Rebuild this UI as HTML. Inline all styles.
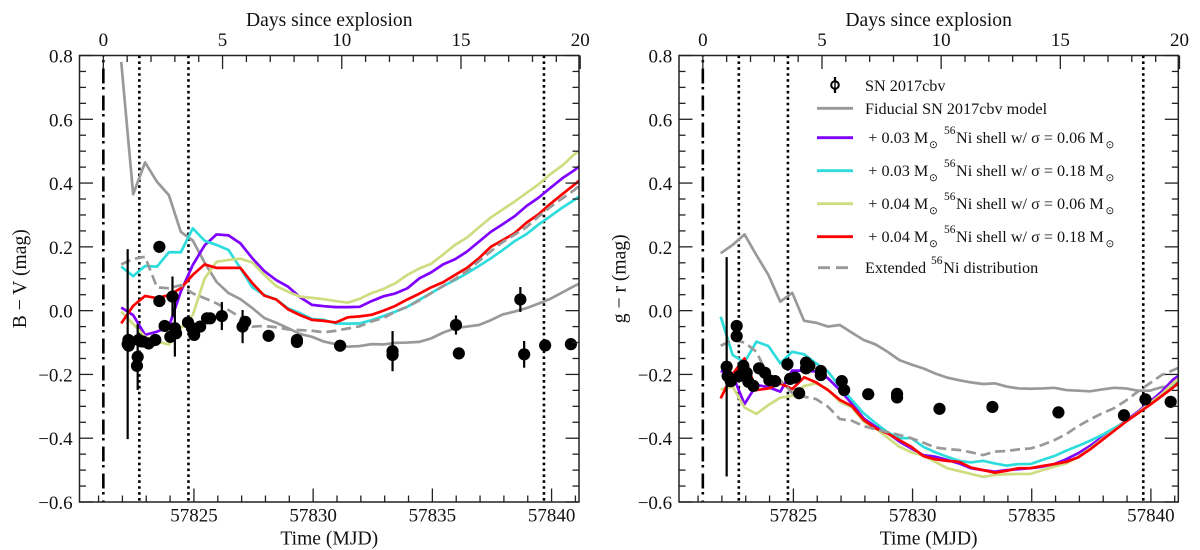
<!DOCTYPE html>
<html lang="en">
<head>
<meta charset="utf-8">
<title>SN 2017cbv colour curves</title>
<style>
html,body{margin:0;padding:0;background:#fff;}
svg{display:block;font-family:"Liberation Serif","DejaVu Serif",serif;fill:#111;}
.leg{font-size:16.2px;}
.sup{font-size:11.5px;}
.sun{font-size:10.5px;font-family:"DejaVu Sans",sans-serif;}
</style>
</head>
<body>
<svg id="figure" xmlns="http://www.w3.org/2000/svg" width="1200" height="550" viewBox="0 0 1200 550">
  <rect x="0" y="0" width="1200" height="550" fill="#ffffff"/>
  <defs>
    <clipPath id="clip-left"><rect x="79.5" y="55.5" width="499.5" height="446.5"/></clipPath>
    <clipPath id="clip-right"><rect x="679" y="55.5" width="499.3" height="446.5"/></clipPath>
  </defs>
  <g id="panel-left"></g>
  <g id="panel-right"></g>
  <g id="legend">
    <g>
      <line x1="835" y1="77" x2="835" y2="93" stroke="#000" stroke-width="2.2"/>
      <circle cx="835" cy="85" r="3.8" fill="#fff" stroke="#000" stroke-width="2"/>
      <line x1="835" y1="81" x2="835" y2="89" stroke="#000" stroke-width="1.4"/>
      <text class="leg" x="865" y="91">SN 2017cbv</text>
    </g>
    <g>
      <line x1="817" y1="108.3" x2="853" y2="108.3" stroke="#999999" stroke-width="2.8"/>
      <text class="leg" x="865" y="114">Fiducial SN 2017cbv model</text>
    </g>
    <g>
      <line x1="817" y1="137.7" x2="853" y2="137.7" stroke="#7f00ff" stroke-width="2.8"/>
      <text class="leg" x="868.3" y="143">+ 0.03 M</text>
      <text class="sun" x="929" y="148">⊙</text>
      <text class="sup" x="944" y="134">56</text>
      <text class="leg" x="956" y="143">Ni shell w/ σ = 0.06 M</text>
      <text class="sun" x="1105.5" y="148">⊙</text>
    </g>
    <g>
      <line x1="817" y1="170.7" x2="853" y2="170.7" stroke="#2fdcdc" stroke-width="2.8"/>
      <text class="leg" x="868.3" y="176">+ 0.03 M</text>
      <text class="sun" x="929" y="181">⊙</text>
      <text class="sup" x="944" y="167">56</text>
      <text class="leg" x="956" y="176">Ni shell w/ σ = 0.18 M</text>
      <text class="sun" x="1105.5" y="181">⊙</text>
    </g>
    <g>
      <line x1="817" y1="203.7" x2="853" y2="203.7" stroke="#d0dc80" stroke-width="2.8"/>
      <text class="leg" x="868.3" y="209">+ 0.04 M</text>
      <text class="sun" x="929" y="214">⊙</text>
      <text class="sup" x="944" y="200">56</text>
      <text class="leg" x="956" y="209">Ni shell w/ σ = 0.06 M</text>
      <text class="sun" x="1105.5" y="214">⊙</text>
    </g>
    <g>
      <line x1="817" y1="236.7" x2="853" y2="236.7" stroke="#ff0000" stroke-width="2.8"/>
      <text class="leg" x="868.3" y="242">+ 0.04 M</text>
      <text class="sun" x="929" y="247">⊙</text>
      <text class="sup" x="944" y="233">56</text>
      <text class="leg" x="956" y="242">Ni shell w/ σ = 0.18 M</text>
      <text class="sun" x="1105.5" y="247">⊙</text>
    </g>
    <g>
      <line x1="818" y1="267.7" x2="853" y2="267.7" stroke="#999999" stroke-width="2.8" stroke-dasharray="12 6"/>
      <text class="leg" x="865" y="273">Extended</text>
      <text class="sup" x="931" y="264">56</text>
      <text class="leg" x="943.3" y="273">Ni distribution</text>
    </g>
  </g>
</svg>
<script>
// Shared model time grid (days since explosion)
const modelDays = [0.75,1.25,1.75,2.25,2.75,3.25,3.75,4.25,4.75,5.25,5.75,6.25,6.75,7.25,7.75,8.25,8.75,9.25,9.75,10.25,10.75,11.25,11.75,12.25,12.75,13.25,13.75,14.25,14.75,15.25,15.75,16.25,16.75,17.25,17.75,18.25,18.75,19.25,19.75,20.25];

// B - V models
const bvFiducial = [0.78,0.365,0.465,0.404,0.362,0.247,0.22,0.15,0.09,0.055,0.036,0.008,-0.023,-0.038,-0.055,-0.073,-0.082,-0.097,-0.105,-0.113,-0.111,-0.105,-0.106,-0.101,-0.1,-0.098,-0.087,-0.069,-0.055,-0.05,-0.045,-0.03,-0.012,-0.003,0.008,0.022,0.037,0.057,0.077,0.095];
const bvShell003s006 = [0.01,-0.014,-0.076,-0.066,-0.05,0.06,0.143,0.205,0.239,0.236,0.211,0.164,0.124,0.096,0.075,0.042,0.018,0.014,0.011,0.011,0.012,0.03,0.045,0.054,0.07,0.101,0.12,0.145,0.161,0.185,0.216,0.247,0.271,0.296,0.328,0.354,0.385,0.415,0.44,0.47];
const bvShell003s018 = [0.138,0.108,0.14,0.138,0.183,0.183,0.258,0.219,0.206,0.19,0.133,0.073,0.049,0.035,0.007,-0.008,-0.026,-0.029,-0.04,-0.041,-0.04,-0.03,-0.017,-0.003,0.012,0.034,0.055,0.077,0.096,0.117,0.14,0.164,0.19,0.218,0.24,0.27,0.296,0.323,0.347,0.375];
const bvShell004s006 = [-0.003,-0.042,-0.082,-0.097,-0.106,-0.055,-0.014,0.101,0.153,0.159,0.163,0.151,0.112,0.077,0.059,0.044,0.04,0.036,0.03,0.025,0.037,0.055,0.068,0.086,0.112,0.132,0.147,0.176,0.206,0.229,0.261,0.292,0.317,0.342,0.369,0.396,0.428,0.455,0.49,0.515];
const bvShell004s018 = [-0.04,0.015,0.046,0.039,0.049,0.07,0.112,0.145,0.134,0.134,0.134,0.086,0.047,0.035,0.004,-0.014,-0.029,-0.032,-0.037,-0.021,-0.018,-0.013,0,0.015,0.035,0.053,0.073,0.089,0.112,0.134,0.164,0.2,0.221,0.243,0.276,0.302,0.335,0.365,0.395,0.425];
const bvExtended = [0.145,0.162,0.169,0.073,0.07,0.08,0.054,0.039,0.023,0.002,-0.021,-0.05,-0.048,-0.052,-0.059,-0.061,-0.063,-0.068,-0.063,-0.056,-0.049,-0.034,-0.023,-0.003,0.012,0.032,0.055,0.077,0.099,0.124,0.155,0.186,0.215,0.238,0.262,0.295,0.325,0.352,0.378,0.41];

// B - V observations
const bvObsMjd = [57822.22,57822.25,57822.26,57822.33,57822.68,57822.64,57822.61,57822.86,57823.10,57823.38,57823.55,57823.55,57824.10,57824.20,57823.77,57824.01,57824.25,57824.75,57824.92,57825.01,57825.26,57825.55,57825.68,57826.17,57827.04,57827.15,57828.13,57829.32,57829.32,57831.13,57833.33,57833.33,57835.99,57836.11,57838.69,57838.85,57839.73,57840.81];
const bvObsMag = [-0.105,-0.092,-0.11,-0.097,-0.092,-0.145,-0.173,-0.097,-0.103,-0.092,0.2,0.03,0.044,-0.055,-0.048,-0.082,-0.071,-0.037,-0.055,-0.076,-0.05,-0.024,-0.024,-0.017,-0.05,-0.035,-0.079,-0.092,-0.098,-0.11,-0.127,-0.139,-0.045,-0.134,0.035,-0.137,-0.109,-0.105];
const bvObsErr = [0.298,0,0,0,0,0.104,0,0,0,0,0,0,0.063,0.089,0,0,0,0,0,0,0,0,0,0.044,0.052,0,0,0,0,0,0.063,0,0.03,0,0.039,0.042,0,0];

// g - r models
const grFiducial = [0.18,0.206,0.239,0.174,0.112,0.028,0.056,-0.032,-0.038,-0.05,-0.045,-0.069,-0.092,-0.106,-0.129,-0.155,-0.169,-0.181,-0.197,-0.21,-0.218,-0.225,-0.23,-0.228,-0.238,-0.244,-0.245,-0.244,-0.242,-0.249,-0.251,-0.253,-0.247,-0.242,-0.244,-0.251,-0.251,-0.24,-0.236,-0.23];
const grShell003s006 = [-0.189,-0.202,-0.293,-0.233,-0.24,-0.254,-0.188,-0.188,-0.191,-0.212,-0.249,-0.291,-0.338,-0.364,-0.383,-0.411,-0.432,-0.453,-0.458,-0.468,-0.479,-0.494,-0.5,-0.505,-0.5,-0.497,-0.494,-0.489,-0.481,-0.466,-0.447,-0.424,-0.397,-0.372,-0.345,-0.317,-0.286,-0.254,-0.215,-0.19];
const grShell003s018 = [-0.019,-0.139,-0.162,-0.097,-0.111,-0.165,-0.129,-0.137,-0.165,-0.191,-0.239,-0.28,-0.322,-0.353,-0.381,-0.4,-0.4,-0.427,-0.444,-0.458,-0.471,-0.476,-0.471,-0.479,-0.486,-0.481,-0.481,-0.468,-0.456,-0.439,-0.424,-0.408,-0.39,-0.369,-0.348,-0.322,-0.291,-0.265,-0.23,-0.2];
const grShell004s006 = [-0.247,-0.238,-0.304,-0.324,-0.296,-0.273,-0.267,-0.236,-0.228,-0.247,-0.286,-0.303,-0.348,-0.369,-0.398,-0.427,-0.444,-0.455,-0.474,-0.494,-0.503,-0.512,-0.521,-0.515,-0.513,-0.512,-0.512,-0.5,-0.489,-0.479,-0.458,-0.432,-0.403,-0.376,-0.348,-0.32,-0.291,-0.262,-0.226,-0.195];
const grShell004s018 = [-0.275,-0.199,-0.15,-0.249,-0.244,-0.228,-0.246,-0.209,-0.225,-0.249,-0.28,-0.299,-0.343,-0.369,-0.385,-0.406,-0.427,-0.456,-0.466,-0.471,-0.474,-0.492,-0.5,-0.508,-0.502,-0.494,-0.494,-0.487,-0.481,-0.474,-0.46,-0.435,-0.406,-0.377,-0.348,-0.322,-0.296,-0.268,-0.24,-0.205];
const grExtended = [-0.11,-0.092,-0.1,-0.129,-0.207,-0.218,-0.258,-0.27,-0.277,-0.301,-0.34,-0.345,-0.362,-0.372,-0.381,-0.39,-0.4,-0.414,-0.429,-0.434,-0.437,-0.444,-0.453,-0.442,-0.44,-0.435,-0.432,-0.421,-0.406,-0.387,-0.362,-0.341,-0.322,-0.306,-0.282,-0.254,-0.228,-0.202,-0.186,-0.17];

// g - r observations
const grObsMjd = [57822.20,57822.24,57822.37,57822.62,57822.62,57822.73,57822.90,57823.04,57823.11,57823.32,57823.56,57823.81,57823.99,57824.23,57824.75,57824.86,57825.07,57825.24,57825.53,57825.53,57825.67,57826.15,57826.15,57827.03,57827.13,57828.14,57829.35,57829.35,57831.13,57833.35,57836.12,57838.87,57839.77,57840.83];
const grObsMag = [-0.176,-0.205,-0.221,-0.048,-0.08,-0.205,-0.173,-0.195,-0.223,-0.236,-0.181,-0.195,-0.218,-0.221,-0.168,-0.214,-0.21,-0.259,-0.163,-0.181,-0.173,-0.189,-0.202,-0.221,-0.249,-0.262,-0.261,-0.272,-0.308,-0.302,-0.319,-0.328,-0.278,-0.286];
const grObsErr = [0.344,0,0,0,0,0,0,0,0,0,0,0,0,0,0,0,0,0,0,0,0,0,0,0,0,0,0,0,0,0,0,0,0,0];

// Axis ticks and labels
const yTickValues = [-0.6,-0.4,-0.2,0,0.2,0.4,0.6,0.8];
const yTickLabels = ["\u22120.6","\u22120.4","\u22120.2","0.0","0.2","0.4","0.6","0.8"];
const yMinorValues = [-0.55,-0.5,-0.45,-0.35,-0.3,-0.25,-0.15,-0.1,-0.05,0.05,0.1,0.15,0.25,0.3,0.35,0.45,0.5,0.55,0.65,0.7,0.75];
const bottomTickValues = [57825,57830,57835,57840];
const bottomTickLabels = ["57825","57830","57835","57840"];
const bottomMinorValues = [57821,57822,57823,57824,57826,57827,57828,57829,57831,57832,57833,57834,57836,57837,57838,57839,57841];
const topTickValues = [0,5,10,15,20];
const topTickLabels = ["0","5","10","15","20"];
const topMinorValues = [1,2,3,4,6,7,8,9,11,12,13,14,16,17,18,19];
const explosionMjd = 57821.2;
const epochMjd = [57822.71,57824.77,57839.68];
const xDomain = [57820.2,57841.15];
const yDomain = [-0.6,0.8];

const SVG_NS = "http://www.w3.org/2000/svg";

function svgEl(parent, tag, attrs, text) {
  const el = document.createElementNS(SVG_NS, tag);
  for (const k in attrs) el.setAttribute(k, attrs[k]);
  if (text !== undefined) el.textContent = text;
  parent.appendChild(el);
  return el;
}

function drawPanel(cfg) {
  const root = document.getElementById(cfg.rootId);
  const T = 55.5, B = 502, L = cfg.left, R = cfg.right;
  const xs = m => L + (m - xDomain[0]) * (R - L) / (xDomain[1] - xDomain[0]);
  const ys = v => B - (v - yDomain[0]) * (B - T) / (yDomain[1] - yDomain[0]);
  const xd = d => xs(explosionMjd + d);
  const axisStroke = "#222222";

  // reference lines
  const explosion = svgEl(root, "line", {x1: xs(explosionMjd), x2: xs(explosionMjd), y1: T, y2: B, stroke: "#000", "stroke-width": 2.6, "stroke-dasharray": "15 3.5 2.5 6", "stroke-dashoffset": 14});
  
  
  epochMjd.forEach(m => {
    const epoch = svgEl(root, "line", {x1: xs(m), x2: xs(m), y1: T, y2: B, stroke: "#000", "stroke-width": 2.6, "stroke-dasharray": "2.6 3.3"});
    
    
  });

  // model series
  const seriesGroup = svgEl(root, "g", {"clip-path": "url(#" + cfg.clipId + ")"});
  
  
  cfg.series.forEach(s => {
    const pts = s.values.map((v, i) => xd(modelDays[i]).toFixed(2) + "," + ys(v).toFixed(2)).join(" ");
    const line = svgEl(seriesGroup, "polyline", {points: pts, fill: "none", stroke: s.color, "stroke-width": 2.7, "stroke-linejoin": "round"});
    if (s.dash) line.setAttribute("stroke-dasharray", s.dash);
    
    
  });

  // observations
  cfg.obsMjd.forEach((m, i) => {
    if (cfg.obsErr[i] > 0) {
      const bar = svgEl(root, "line", {x1: xs(m), x2: xs(m), y1: ys(cfg.obsMag[i] + cfg.obsErr[i]), y2: ys(cfg.obsMag[i] - cfg.obsErr[i]), stroke: "#000", "stroke-width": 2.2});
      
      
    }
    const dot = svgEl(root, "circle", {cx: xs(m), cy: ys(cfg.obsMag[i]), r: 6.1, fill: "#000"});
    
    
  });

  // spines
  const frame = svgEl(root, "rect", {x: L, y: T, width: R - L, height: B - T, fill: "none", stroke: axisStroke, "stroke-width": 1.5});
  
  

  // ticks
  const ticks = svgEl(root, "g", {stroke: axisStroke, "stroke-width": 1.3});
  
  
  const tick = (x1, y1, x2, y2) => svgEl(ticks, "line", {x1, y1, x2, y2});
  yTickValues.forEach(v => { tick(L, ys(v), L + 13.5, ys(v)); tick(R, ys(v), R - 13.5, ys(v)); });
  yMinorValues.forEach(v => { tick(L, ys(v), L + 6.5, ys(v)); tick(R, ys(v), R - 6.5, ys(v)); });
  bottomTickValues.forEach(m => tick(xs(m), B, xs(m), B - 13.5));
  bottomMinorValues.forEach(m => tick(xs(m), B, xs(m), B - 6.5));
  topTickValues.forEach(d => tick(xd(d), T, xd(d), T + 13.5));
  topMinorValues.forEach(d => tick(xd(d), T, xd(d), T + 6.5));

  // tick labels
  yTickValues.forEach((v, i) => {
    const t = svgEl(root, "text", {x: L - 6.8, y: ys(v) + 7, "text-anchor": "end", "font-size": 19}, yTickLabels[i]);
    
    
  });
  bottomTickValues.forEach((m, i) => {
    const t = svgEl(root, "text", {x: xs(m), y: 521.7, "text-anchor": "middle", "font-size": 19}, bottomTickLabels[i]);
    
    
  });
  topTickValues.forEach((d, i) => {
    const t = svgEl(root, "text", {x: xd(d), y: 46, "text-anchor": "middle", "font-size": 19}, topTickLabels[i]);
    
    
  });

  // titles
  const mid = (L + R) / 2;
  const topTitle = svgEl(root, "text", {x: mid, y: 26, "text-anchor": "middle", "font-size": 19.6}, "Days since explosion");
  
  
  const bottomTitle = svgEl(root, "text", {x: mid, y: 544.5, "text-anchor": "middle", "font-size": 19.6}, "Time (MJD)");
  
  
  const yx = cfg.yTitleX, yy = (T + B) / 2;
  const yTitle = svgEl(root, "text", {x: yx, y: yy, "text-anchor": "middle", "font-size": 19.6, transform: "rotate(-90 " + yx + " " + yy + ")"}, cfg.yTitle);
  
  
}

drawPanel({
  rootId: "panel-left", clipId: "clip-left", left: 79.5, right: 579, yTitleX: 26, yTitle: "B \u2212 V (mag)",
  series: [
    {name: "fiducial-model-line", values: bvFiducial, color: "#999999"},
    {name: "shell-003-sigma-006-line", values: bvShell003s006, color: "#7f00ff"},
    {name: "shell-003-sigma-018-line", values: bvShell003s018, color: "#2fdcdc"},
    {name: "shell-004-sigma-006-line", values: bvShell004s006, color: "#d0dc80"},
    {name: "shell-004-sigma-018-line", values: bvShell004s018, color: "#ff0000"},
    {name: "extended-nickel-line", values: bvExtended, color: "#999999", dash: "10 5"}
  ],
  obsMjd: bvObsMjd, obsMag: bvObsMag, obsErr: bvObsErr
});

drawPanel({
  rootId: "panel-right", clipId: "clip-right", left: 679, right: 1178.3, yTitleX: 625.5, yTitle: "g \u2212 r (mag)",
  series: [
    {name: "fiducial-model-line", values: grFiducial, color: "#999999"},
    {name: "shell-003-sigma-006-line", values: grShell003s006, color: "#7f00ff"},
    {name: "shell-003-sigma-018-line", values: grShell003s018, color: "#2fdcdc"},
    {name: "shell-004-sigma-006-line", values: grShell004s006, color: "#d0dc80"},
    {name: "shell-004-sigma-018-line", values: grShell004s018, color: "#ff0000"},
    {name: "extended-nickel-line", values: grExtended, color: "#999999", dash: "10 5"}
  ],
  obsMjd: grObsMjd, obsMag: grObsMag, obsErr: grObsErr
});
</script>
</body>
</html>
